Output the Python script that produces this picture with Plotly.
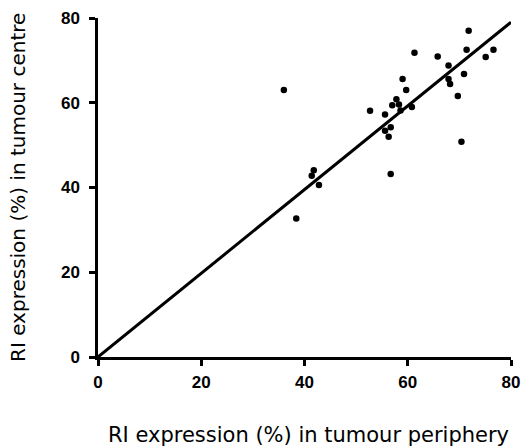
import plotly.graph_objects as go

# Data
periphery = [36.0, 41.8, 41.4, 42.8, 38.4, 56.7, 52.7, 55.6, 55.6, 56.7, 56.3, 57.8, 57.0,
             58.3, 58.6, 59.0, 59.7, 60.8, 61.3, 65.8, 67.9, 67.9, 68.2, 69.7, 70.4,
             70.9, 71.4, 71.8, 75.1, 76.6]
centre = [63.0, 44.1, 42.8, 40.6, 32.7, 43.2, 58.1, 57.2, 53.4, 54.2, 52.0, 60.8, 59.4,
          59.6, 58.2, 65.6, 63.0, 59.0, 71.8, 70.9, 68.8, 65.6, 64.4, 61.6, 50.8,
          66.8, 72.5, 77.0, 70.8, 72.5]
line_x = [0, 80]
line_y = [0, 79]
ticks = [0, 20, 40, 60, 80]

W, H = 522, 448
L, R, T, B = 98, 11, 18, 91

fig = go.Figure()
fig.add_trace(go.Scatter(x=line_x, y=line_y, mode="lines",
                         line=dict(color="black", width=3), showlegend=False,
                         cliponaxis=False))
fig.add_trace(go.Scatter(x=periphery, y=centre, mode="markers",
                         marker=dict(color="black", size=6.5), showlegend=False,
                         cliponaxis=False))

axis_common = dict(range=[0, 80], tickvals=ticks, showgrid=False, zeroline=False,
                   showline=True, linecolor="black", linewidth=2.5,
                   ticks="outside", ticklen=6, tickwidth=2.5, tickcolor="black",
                   tickfont=dict(family="Liberation Sans", size=17, color="black",
                                 weight="bold"))
fig.update_xaxes(**axis_common, ticklabelstandoff=2)
fig.update_yaxes(**axis_common, ticklabelstandoff=6)


def px_to_paper(xp, yp):
    return (xp - L) / (W - L - R), (H - B - yp) / (H - T - B)


xt = px_to_paper(308, 435)
yt = px_to_paper(18, 188)
fig.update_layout(
    width=W, height=H,
    margin=dict(l=L, r=R, t=T, b=B, autoexpand=False),
    plot_bgcolor="white", paper_bgcolor="white",
    annotations=[
        dict(text="RI expression (%) in tumour periphery", x=xt[0], y=xt[1],
             xref="paper", yref="paper", showarrow=False,
             xanchor="center", yanchor="middle",
             font=dict(family="DejaVu Sans", size=21, color="black")),
        dict(text="RI expression (%) in tumour centre", x=yt[0], y=yt[1],
             xref="paper", yref="paper", showarrow=False, textangle=-90,
             xanchor="center", yanchor="middle",
             font=dict(family="DejaVu Sans", size=20, color="black")),
    ],
)

fig.write_html("out.html", config={"displayModeBar": False},
               post_script="document.body.style.margin='0';")
